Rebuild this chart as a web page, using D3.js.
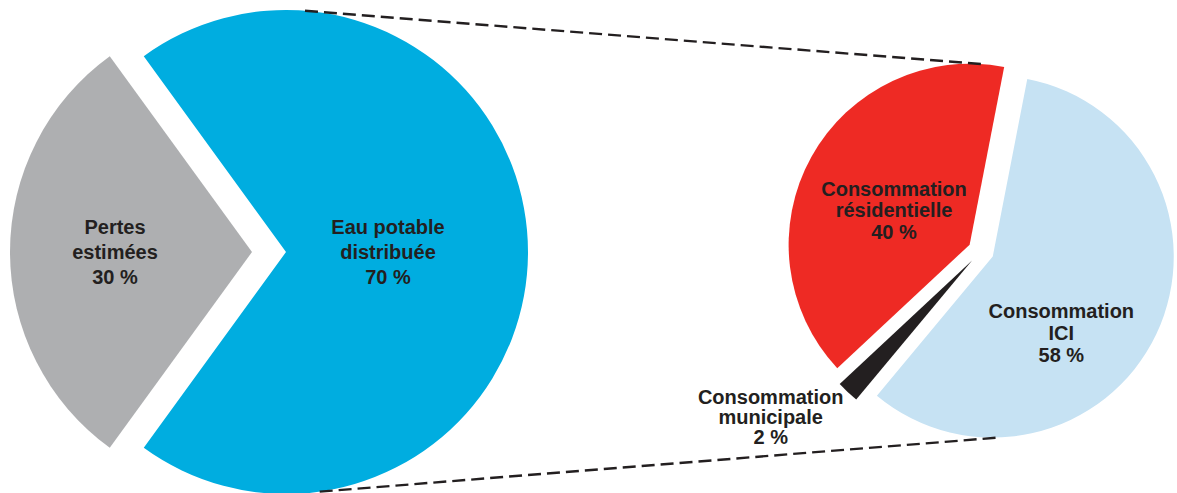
<!DOCTYPE html>
<meta charset="utf-8">
<style>
body { margin: 0; background: #fff; }
text {
  font-family: "Liberation Sans", Arial, sans-serif;
  font-weight: bold;
  font-size: 20px;
  fill: #231f20;
}
.link {
  stroke: #231f20;
  stroke-width: 2.4px;
  stroke-dasharray: 13,6;
  fill: none;
}
</style>
<svg width="1177" height="493"></svg>
<script src="https://d3js.org/d3.v7.min.js"></script>
<script>

// left pie: where the water goes
var waterNames = ["Eau potable\ndistribuée", "Pertes\nestimées"];
var waterValues = [70, 30];
var waterColors = ["#00ade0", "#aeafb1"];

// right pie: breakdown of distributed water
var useNames = ["Consommation\nICI", "Consommation\nmunicipale", "Consommation\nrésidentielle"];
var useValues = [58, 2, 40];
var useColors = ["#c6e2f3", "#231f20", "#ee2a24"];

var svg = d3.select("svg");
var deg = Math.PI / 180;

// layout of each pie (center, radius, explode distance, label spots in polar coords, line height)
var left = {
  cx: 269, cy: 252, r: 242, explode: 17,
  start: -Math.PI / 2 + Math.PI * waterValues[1] / 100,
  labels: [[90, 119], [270, 154]],
  lh: [25, 25]
};
var right = {
  cx: 981, cy: 251, r: 181, explode: 13,
  start: 11 * deg,
  labels: [[135.7, 115], [231.7, 268], [295, 96]],
  lh: [22, 20, 21.5]
};

function drawPie(cfg, names, values, colors) {
  var pie = d3.pie().sort(null).startAngle(cfg.start).endAngle(cfg.start + 2 * Math.PI);
  var arcs = pie(values);
  var arc = d3.arc().innerRadius(0).outerRadius(cfg.r);
  var g = svg.append("g").attr("transform", "translate(" + cfg.cx + "," + cfg.cy + ")");

  arcs.forEach(function(a, i) {
    var mid = (a.startAngle + a.endAngle) / 2;
    a.dx = Math.sin(mid) * cfg.explode;
    a.dy = -Math.cos(mid) * cfg.explode;
    g.append("path")
      .attr("d", arc(a))
      .attr("transform", "translate(" + a.dx + "," + a.dy + ")")
      .attr("fill", colors[i]);
  });

  arcs.forEach(function(a, i) {
    var ang = cfg.labels[i][0] * deg, rr = cfg.labels[i][1];
    var x = Math.sin(ang) * rr, y = -Math.cos(ang) * rr;
    var lines = names[i].split("\n").concat([values[i] + " %"]);
    var lh = cfg.lh[i];
    var t = g.append("text").attr("text-anchor", "middle");
    lines.forEach(function(s, k) {
      t.append("tspan")
        .attr("x", x)
        .attr("y", y + (k - (lines.length - 1) / 2) * lh + 7)
        .text(s);
    });
  });
  cfg.arcs = arcs;
  return cfg;
}

drawPie(left, waterNames, waterValues, waterColors);
drawPie(right, useNames, useValues, useColors);

// point on the rim of slice i of a pie, at angle (degrees clockwise from top)
function rim(cfg, i, angle) {
  var a = cfg.arcs[i];
  return [cfg.cx + a.dx + Math.sin(angle * deg) * cfg.r,
          cfg.cy + a.dy - Math.cos(angle * deg) * cfg.r];
}

var links = [
  [rim(left, 0, 4.5), rim(right, 2, 364.75)],
  [rim(left, 0, 172), rim(right, 0, 177.5)]
];

svg.selectAll(".link").data(links).enter().append("line")
  .attr("class", "link")
  .attr("x1", function(d) { return d[0][0]; })
  .attr("y1", function(d) { return d[0][1]; })
  .attr("x2", function(d) { return d[1][0]; })
  .attr("y2", function(d) { return d[1][1]; });

</script>
